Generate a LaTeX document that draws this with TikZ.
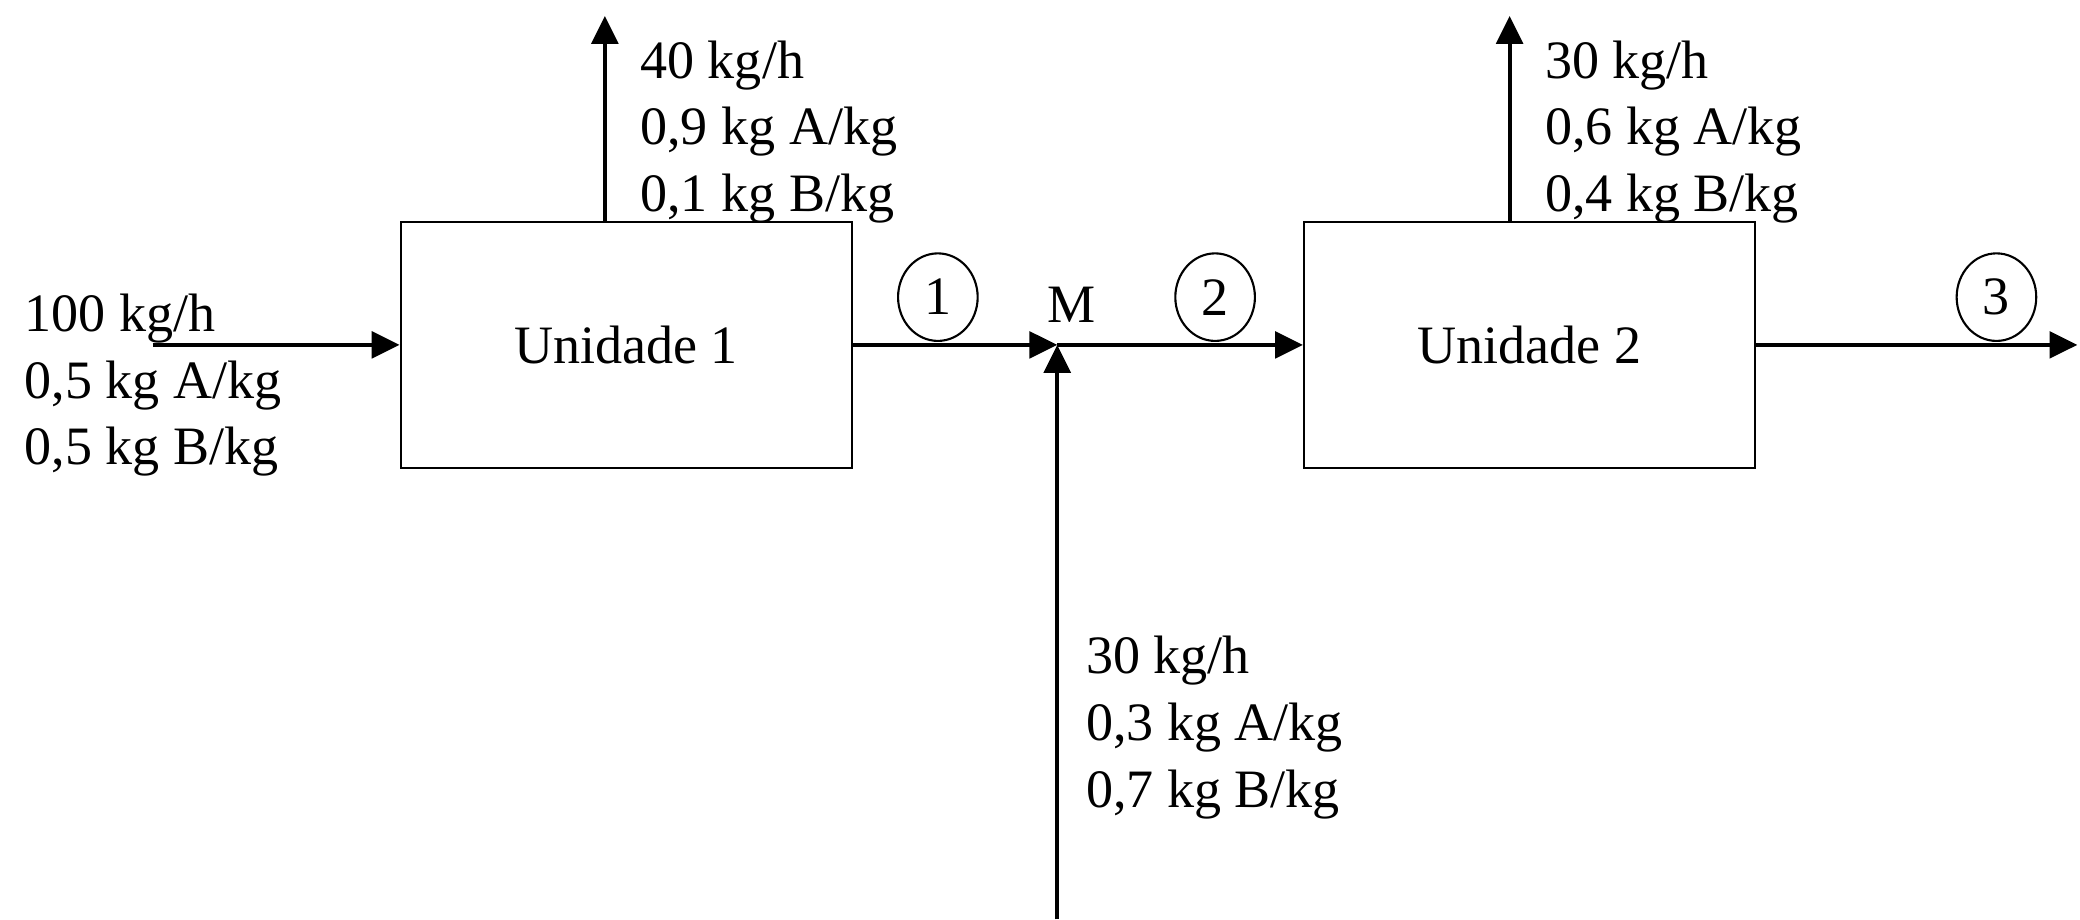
\documentclass[tikz,border=0pt]{standalone}
\usepackage{fontspec}
\setmainfont{Liberation Serif}
\usetikzlibrary{arrows.meta,shapes.geometric}
\begin{document}
\begin{tikzpicture}[
  font=\fontsize{11.6}{14.3}\selectfont,
  unit/.style={draw, line width=0.45pt, minimum width=3.4cm, minimum height=1.85cm, inner sep=0pt},
  flow/.style={line width=0.85pt, -{Triangle[length=0.21cm,width=0.2cm]}},
  lbl/.style={anchor=north west, align=left, inner sep=0pt},
  tag/.style={draw, ellipse, line width=0.45pt, minimum width=0.6cm, minimum height=0.66cm, inner sep=0pt}
]
\useasboundingbox (0,0) rectangle (15.68,-6.93);
\node[unit] (u1) at (4.72,-2.60) {Unidade 1};
\node[unit] (u2) at (11.53,-2.60) {Unidade 2};
\coordinate (in) at (1.15,-2.60);
\coordinate (top1) at (4.56,-0.12);
\coordinate (top2) at (11.38,-0.12);
\coordinate (m) at (7.97,-2.60);
\coordinate (bot) at (7.97,-6.93);
\coordinate (out) at (15.66,-2.60);
\draw[flow] (in) -- (u1.west);
\draw[flow] (u1.north -| top1) -- (top1);
\draw[flow] (u2.north -| top2) -- (top2);
\draw[flow] (u1.east) -- (m);
\draw[flow] (m) -- (u2.west);
\draw[flow] (bot) -- (m);
\draw[flow] (u2.east) -- (out);
\node[tag] (c1) at (7.07,-2.24) {1};
\node[tag] (c2) at (9.16,-2.24) {2};
\node[tag] (c3) at (15.05,-2.24) {3};
\node (mlabel) at (8.08,-2.30) {M};
\node[lbl] (t1) at (4.82,-0.30) {40 kg/h\\0,9 kg A/kg\\0,1 kg B/kg};
\node[lbl] (t2) at (11.64,-0.30) {30 kg/h\\0,6 kg A/kg\\0,4 kg B/kg};
\node[lbl] (t0) at (0.18,-2.21) {100 kg/h\\0,5 kg A/kg\\0,5 kg B/kg};
\node[lbl] (t3) at (8.18,-4.79) {30 kg/h\\0,3 kg A/kg\\0,7 kg B/kg};
\end{tikzpicture}
\end{document}
